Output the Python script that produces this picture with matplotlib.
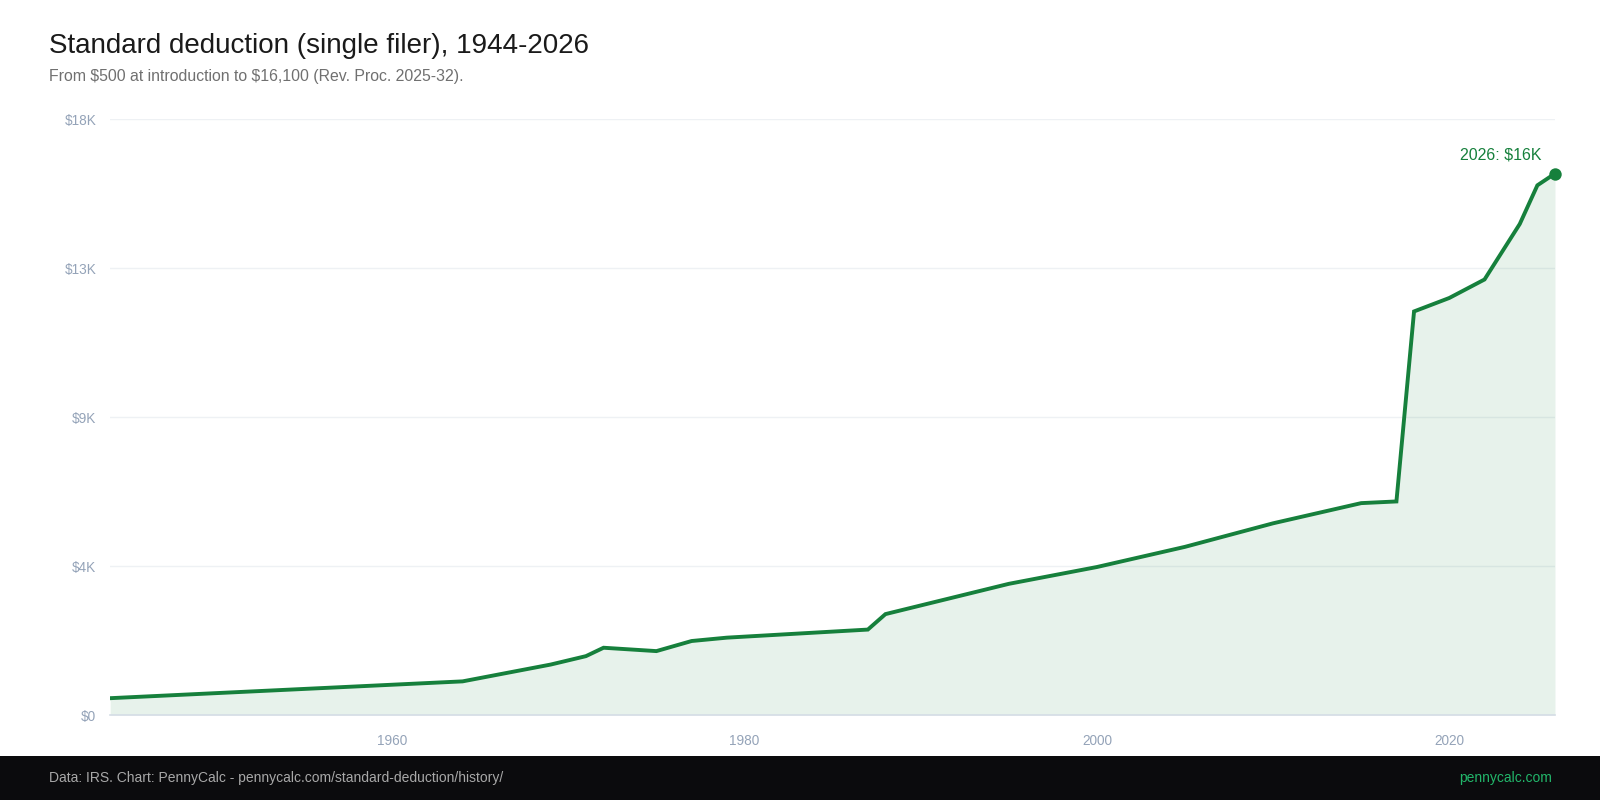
import matplotlib
matplotlib.use("Agg")
import matplotlib.pyplot as plt
from matplotlib.patches import Rectangle
import numpy as np

# ---- data ----
years = [1944, 1964, 1969, 1971, 1972, 1975, 1977, 1979, 1987, 1988,
         1995, 2000, 2005, 2010, 2015, 2017, 2018, 2020, 2022, 2024, 2025, 2026]
deduction = [500, 1000, 1500, 1750, 2000, 1900, 2200, 2300, 2540, 3000,
             3900, 4400, 5000, 5700, 6300, 6350, 12000, 12400, 12950, 14600, 15750, 16100]
x_ticks = [1960, 1980, 2000, 2020]
y_max = 16100 * 1.1
y_ticks = list(np.linspace(0, y_max, 5))

title = "Standard deduction (single filer), 1944-2026"
subtitle = r"From \$500 at introduction to \$16,100 (Rev. Proc. 2025-32)."
footer_left = "Data: IRS. Chart: PennyCalc - pennycalc.com/standard-deduction/history/"
footer_right = "pennycalc.com"

GREEN = "#16803c"
plt.rcParams['font.family'] = ['Liberation Sans', 'DejaVu Sans']

fig = plt.figure(figsize=(16, 8), dpi=100)
fig.patch.set_facecolor("white")

ax = fig.add_axes([110.2 / 1600, 85 / 800, (1555 - 110.2) / 1600, (715 - 119.4) / 800])
ax.set_xlim(1944, 2026)
ax.set_ylim(0, y_max)

ax.fill_between(years, deduction, 0, color=GREEN, alpha=0.1, linewidth=0, zorder=1)
ax.plot(years, deduction, color=GREEN, linewidth=2.8, solid_joinstyle="miter", zorder=3)
ax.scatter([years[-1]], [deduction[-1]], s=80, color=GREEN, zorder=4, linewidths=0, clip_on=False)
ax.annotate(f"{years[-1]}: \\${deduction[-1] / 1000:.0f}K", xy=(years[-1], deduction[-1]),
            xytext=(-10, 8), textcoords="offset points", ha="right", va="bottom",
            color=GREEN, fontsize=11.5)

ax.set_yticks(y_ticks)
ax.set_yticklabels([f"\\${round(v / 1000)}K" if v > 0 else "\\$0" for v in y_ticks])
ax.set_xticks(x_ticks)
ax.set_xticklabels([str(t) for t in x_ticks])
ax.tick_params(axis="both", length=0, colors="#94a3b8", labelsize=9.8)
ax.tick_params(axis="y", pad=10)
ax.tick_params(axis="x", pad=14)
ax.grid(axis="y", color="#eef1f4", linewidth=1, zorder=0)
ax.set_axisbelow(True)
for s in ["top", "right", "left"]:
    ax.spines[s].set_visible(False)
ax.spines["bottom"].set_color("#d5dde6")
ax.spines["bottom"].set_linewidth(1.2)
ax.spines["bottom"].set_zorder(2)

fig.text(49 / 1600, 1 - 46 / 800, title, fontsize=20, color="#1a1a1a", va="center", ha="left")
fig.text(49 / 1600, 1 - 76 / 800, subtitle, fontsize=11.4, color="#707070", va="center", ha="left")

fig.patches.append(Rectangle((0, 0), 1, 44 / 800, transform=fig.transFigure,
                             facecolor="#0b0b0d", edgecolor="none", zorder=0))
fig.text(49 / 1600, 22 / 800, footer_left, fontsize=10, color="#a8a8a8", va="center", ha="left")
fig.text(1552 / 1600, 22 / 800, footer_right, fontsize=10, color="#22b66a", va="center", ha="right")

fig.savefig("out.png", dpi=100, facecolor="white")
